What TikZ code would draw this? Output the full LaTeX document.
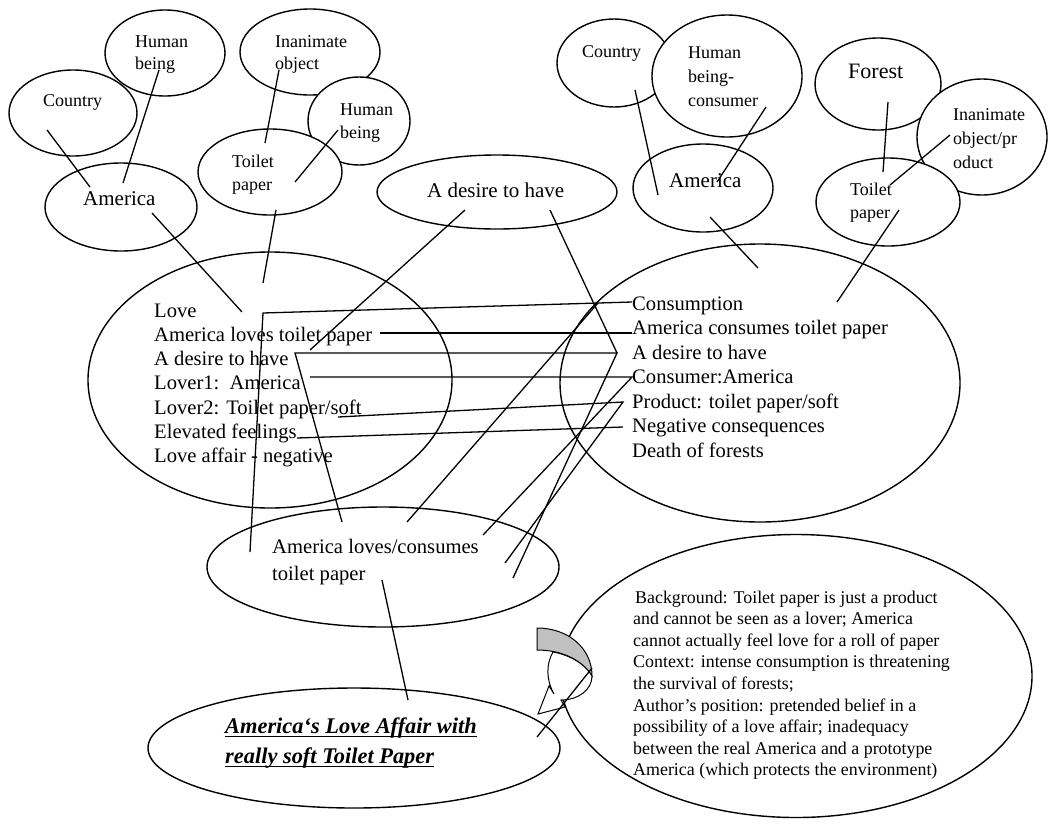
\documentclass[tikz,border=0pt]{standalone}
\usepackage{fontspec}
\setmainfont{Liberation Serif}
\usetikzlibrary{shapes.geometric}
\definecolor{arrowgray}{RGB}{192,192,192}

\tikzset{
  bubble/.style={draw=black, line width=1.4pt, ellipse, inner sep=0pt},
  solid bubble/.style={bubble, fill=white},
  link/.style={line width=1.3pt, line join=miter},
  txt/.style={inner sep=0pt, anchor=base west},
  small/.style={txt, font=\fontsize{18}{23}\selectfont},
  mid/.style={txt, font=\fontsize{21}{24}\selectfont},
  main/.style={txt, font=\fontsize{20.6}{24}\selectfont},
  note/.style={txt, font=\fontsize{17.9}{21.6}\selectfont},
  headline/.style={txt, font=\fontsize{22.4}{30}\selectfont\bfseries\itshape},
  underrule/.style={line width=1.2pt},
}

\begin{document}
\begin{tikzpicture}[x=1pt, y=-1pt]
\useasboundingbox (0,0) rectangle (1048,825);

% ---------- upper left cluster ----------
\node[solid bubble, minimum width=120pt, minimum height=86pt] (hbA) at (165,53) {};
\node[solid bubble, minimum width=128pt, minimum height=86pt] (ctyA) at (73,113) {};
\node[solid bubble, minimum width=152pt, minimum height=88pt] (amA) at (121,207) {};
\node[solid bubble, minimum width=140pt, minimum height=86pt] (ioA) at (310,52) {};
\node[solid bubble, minimum width=102pt, minimum height=88pt] (hbB) at (359,121) {};
\node[solid bubble, minimum width=144pt, minimum height=86pt] (tpA) at (270,172) {};

\node[small] (hbA1) at (135,47) {Human};
\node[small] (hbA2) at (135,69) {being};
\node[small] (ctyAt) at (43,106) {Country};
\node[mid]   (amAt) at (83,205) {America};
\node[small] (ioA1) at (275,47) {Inanimate};
\node[small] (ioA2) at (275,69) {object};
\node[small] (hbB1) at (340,115) {Human};
\node[small] (hbB2) at (340,138) {being};
\node[small] (tpA1) at (232,167) {Toilet};
\node[small] (tpA2) at (232,190) {paper};

% ---------- shared desire ----------
\node[bubble, minimum width=240pt, minimum height=74pt] (des) at (497,192) {};
\node[mid] (dest) at (427,197) {A desire to have};

% ---------- upper right cluster ----------
\node[solid bubble, minimum width=114pt, minimum height=88pt] (ctyB) at (614,63) {};
\node[solid bubble, minimum width=150pt, minimum height=122pt] (hbc) at (727,76) {};
\node[solid bubble, minimum width=140pt, minimum height=88pt] (amB) at (703,188) {};
\node[solid bubble, minimum width=126pt, minimum height=92pt] (forest) at (878,84) {};
\node[solid bubble, minimum width=130pt, minimum height=116pt] (iop) at (982,137) {};
\node[solid bubble, minimum width=144pt, minimum height=88pt] (tpB) at (888,202) {};

\node[small] (ctyBt) at (582,57) {Country};
\node[small] (hbc1) at (688,58) {Human};
\node[small] (hbc2) at (688,82) {being-};
\node[small] (hbc3) at (688,106) {consumer};
\node[mid]   (amBt) at (669,187) {America};
\node[txt, font=\fontsize{22}{24}\selectfont] (forestt) at (848,78) {Forest};
\node[small] (iop1) at (953,120) {Inanimate};
\node[small] (iop2) at (953,144) {object/pr};
\node[small] (iop3) at (953,168) {oduct};
\node[small] (tpB1) at (850,195) {Toilet};
\node[small] (tpB2) at (850,218) {paper};

% ---------- the two input spaces ----------
\node[bubble, minimum width=364pt, minimum height=256pt] (bigL) at (270,380) {};
\node[bubble, minimum width=400pt, minimum height=278pt] (bigR) at (760,383) {};

\node[main] (L1) at (154,317) {Love};
\node[main] (L2) at (154,341) {America loves toilet paper};
\node[main] (L3) at (154,365.5) {A desire to have};
\node[main] (L4) at (154,389.5) {Lover1:\ \ America};
\node[main] (L5) at (154,414) {Lover2: Toilet paper/soft};
\node[main] (L6) at (154,438) {Elevated feelings};
\node[main] (L7) at (154,462) {Love affair - negative};

\node[main] (R1) at (632,310) {Consumption};
\node[main] (R2) at (632,334.5) {America consumes toilet paper};
\node[main] (R3) at (632,359) {A desire to have};
\node[main] (R4) at (632,383.5) {Consumer:America};
\node[main] (R5) at (632,408) {Product: toilet paper/soft};
\node[main] (R6) at (632,432.5) {Negative consequences};
\node[main] (R7) at (632,457) {Death of forests};

% ---------- blend and headline ----------
\node[bubble, minimum width=352pt, minimum height=120pt] (blend) at (383,567) {};
\node[main] (B1) at (272,553) {America loves/consumes};
\node[main] (B2) at (272,580) {toilet paper};

\node[bubble, minimum width=412pt, minimum height=120pt] (title) at (354,748) {};
\node[headline] (T1) at (225,733) {America‘s Love Affair with};
\node[headline] (T2) at (225,763) {really soft Toilet Paper};
\draw[underrule] ([yshift=-3.5pt]T1.base west) -- ([yshift=-3.5pt]T1.base east);
\draw[underrule] ([yshift=-3.5pt]T2.base west) -- ([yshift=-3.5pt]T2.base east);

% ---------- context ----------
\node[bubble, minimum width=472pt, minimum height=283pt] (ctx) at (796,676) {};
\node[note] (C1) at (635,603) {Background: Toilet paper is just a product};
\node[note] (C2) at (633,624.6) {and cannot be seen as a lover; America};
\node[note] (C3) at (633,646.2) {cannot actually feel love for a roll of paper};
\node[note] (C4) at (633,667.8) {Context: intense consumption is threatening};
\node[note] (C5) at (633,689.4) {the survival of forests;};
\node[note] (C6) at (633,711) {Author’s position: pretended belief in a};
\node[note] (C7) at (633,732.6) {possibility of a love affair; inadequacy};
\node[note] (C8) at (633,754.2) {between the real America and a prototype};
\node[note] (C9) at (633,775.8) {America (which protects the environment)};

% curved block arrow pointing at the headline
\draw[line width=1pt, fill=arrowgray] (537,628) .. controls (568,628) and (592,648) .. (592,676)
  .. controls (582,660) and (562,650) .. (537,650) -- cycle;
\draw[line width=1pt, fill=white] (592,676) .. controls (592,690) and (578,700) .. (561,700)
  -- (565,707) -- (538,714) -- (549,686) -- (554,694)
  .. controls (546,680) and (546,664) .. (553,652)
  .. controls (570,655) and (585,664) .. (592,676) -- cycle;

% ---------- connector end points ----------
\coordinate (a1) at (47,130);   \coordinate (a2) at (90,187);
\coordinate (b1) at (159,70);   \coordinate (b2) at (123,183);
\coordinate (c1) at (279,70);   \coordinate (c2) at (265,143);
\coordinate (d1) at (338,130);  \coordinate (d2) at (295,182);
\coordinate (e1) at (152,213);  \coordinate (e2) at (242,312);
\coordinate (f1) at (276,210);  \coordinate (f2) at (263,283);

\coordinate (g1) at (635,90);   \coordinate (g2) at (658,195);
\coordinate (h1) at (766,107);  \coordinate (h2) at (717,182);
\coordinate (i1) at (710,217);  \coordinate (i2) at (758,268);
\coordinate (j1) at (888,102);  \coordinate (j2) at (883,172);
\coordinate (k1) at (950,135);  \coordinate (k2) at (890,185);
\coordinate (l1) at (899,210);  \coordinate (l2) at (837,302);

\coordinate (dl1) at (465,210); \coordinate (dl2) at (310,350);
\coordinate (dr1) at (550,210); \coordinate (dr2) at (617,353);

\coordinate (p1a) at (632,302); \coordinate (p1b) at (263,313); \coordinate (p1c) at (250,552);
\coordinate (p1s) at (598,303); \coordinate (p1e) at (407,522);
\coordinate (p2a) at (380,333); \coordinate (p2b) at (632,333);
\coordinate (p3a) at (342,522); \coordinate (p3b) at (295,353); \coordinate (p3c) at (513,578);
\coordinate (p4a) at (310,377); \coordinate (p4b) at (632,377); \coordinate (p4c) at (483,535);
\coordinate (p5a) at (338,417); \coordinate (p5b) at (623,402); \coordinate (p5c) at (505,563);
\coordinate (p6a) at (297,438); \coordinate (p6b) at (623,427);

\coordinate (q1) at (382,580);  \coordinate (q2) at (408,700);
\coordinate (r1) at (537,737);  \coordinate (r2) at (592,668);

% ---------- connectors ----------
\draw[link] (a1) -- (a2);
\draw[link] (b1) -- (b2);
\draw[link] (c1) -- (c2);
\draw[link] (d1) -- (d2);
\draw[link] (e1) -- (e2);
\draw[link] (f1) -- (f2);
\draw[link] (g1) -- (g2);
\draw[link] (h1) -- (h2);
\draw[link] (i1) -- (i2);
\draw[link] (j1) -- (j2);
\draw[link] (k1) -- (k2);
\draw[link] (l1) -- (l2);
\draw[link] (dl1) -- (dl2);
\draw[link] (dr1) -- (dr2);

\draw[link] (p1a) -- (p1b) -- (p1c);
\draw[link] (p1s) -- (p1e);
\draw[link] (p2a) -- (p2b);
\draw[link] (p3a) -- (p3b) -- (dr2) -- (p3c);
\draw[link] (p4a) -- (p4b) -- (p4c);
\draw[link] (p5a) -- (p5b) -- (p5c);
\draw[link] (p6a) -- (p6b);

\draw[link] (q1) -- (q2);
\draw[link] (r1) -- (r2);
\end{tikzpicture}
\end{document}
